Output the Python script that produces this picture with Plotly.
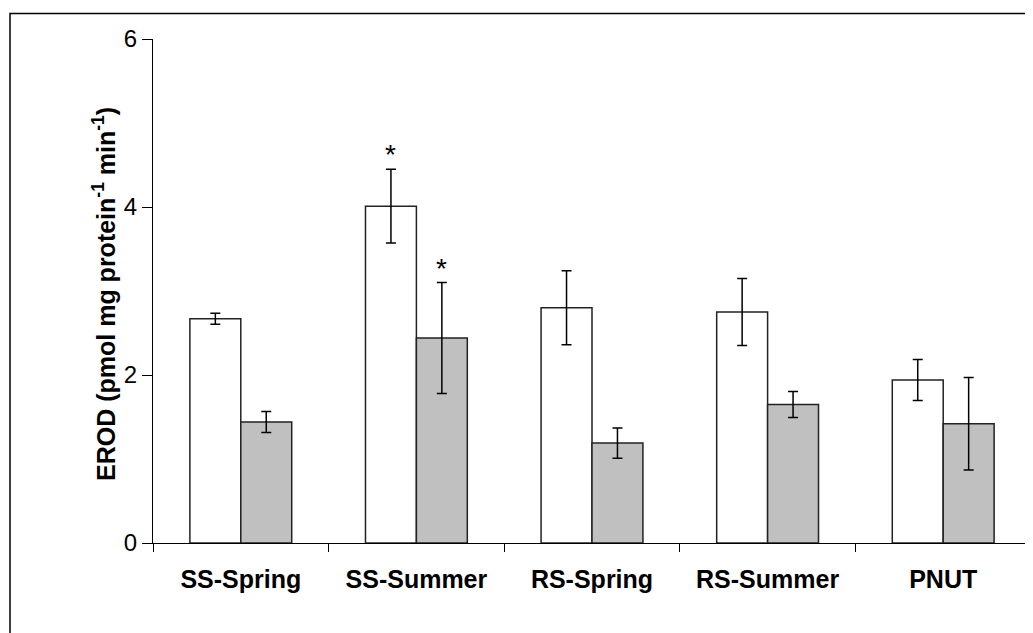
import plotly.graph_objects as go

categories = ["SS-Spring", "SS-Summer", "RS-Spring", "RS-Summer", "PNUT"]
white_values = [2.67, 4.01, 2.80, 2.75, 1.94]
white_errors = [0.065, 0.44, 0.44, 0.40, 0.245]
gray_values = [1.44, 2.44, 1.19, 1.65, 1.42]
gray_errors = [0.125, 0.66, 0.18, 0.155, 0.55]
white_star = [False, True, False, False, False]
gray_star = [False, True, False, False, False]
y_ticks = [0, 2, 4, 6]

FONT = "Liberation Sans, Arial, sans-serif"
BARGAP = 0.42

# page has an 8px body margin; plot area target: x 153..1031, y 39..543
L, T, PW, PH = 145, 31, 878, 504
W, H = 1025, 625

fig = go.Figure()
fig.add_trace(go.Bar(
    x=categories, y=white_values, name="white",
    marker=dict(color="white", line=dict(color="#222222", width=1.5)),
    error_y=dict(type="data", array=white_errors, visible=True,
                 color="black", thickness=1.5, width=5),
))
fig.add_trace(go.Bar(
    x=categories, y=gray_values, name="gray",
    marker=dict(color="#C0C0C0", line=dict(color="#222222", width=1.5)),
    error_y=dict(type="data", array=gray_errors, visible=True,
                 color="black", thickness=1.5, width=5),
))

off = (1 - BARGAP) / 4
for i, c in enumerate(categories):
    if white_star[i]:
        fig.add_annotation(x=i - off, y=white_values[i] + white_errors[i], xref="x", yref="y",
                           text="*", showarrow=False, yanchor="bottom", yshift=-3,
                           font=dict(family=FONT, size=28, color="black"))
    if gray_star[i]:
        fig.add_annotation(x=i + off, y=gray_values[i] + gray_errors[i], xref="x", yref="y",
                           text="*", showarrow=False, yanchor="bottom", yshift=-3,
                           font=dict(family=FONT, size=28, color="black"))

# y-axis title as annotation
fig.add_annotation(
    text="<b>EROD (pmol mg protein<sup>-1</sup> min<sup>-1</sup>)</b>",
    xref="paper", yref="paper", x=(104 - 153) / PW, y=(543 - 294) / PH,
    xanchor="center", yanchor="middle", textangle=-90, showarrow=False,
    font=dict(family=FONT, size=25, color="black"),
)

# outer frame
fig.add_shape(type="rect", xref="paper", yref="paper",
              x0=(10 - 153) / PW, x1=1.1, y0=-0.3, y1=(543 - 13.5) / PH,
              line=dict(color="black", width=1.5), fillcolor="rgba(0,0,0,0)")

fig.update_layout(
    width=W, height=H,
    margin=dict(l=L, r=W - L - PW, t=T, b=H - T - PH),
    paper_bgcolor="white", plot_bgcolor="white",
    barmode="group", bargap=BARGAP, bargroupgap=0,
    showlegend=False,
    font=dict(family=FONT, color="black"),
)
fig.update_xaxes(
    showline=True, linecolor="black", linewidth=1.2,
    ticks="outside", ticklen=8, tickcolor="black", tickwidth=1.2,
    tickson="boundaries", showgrid=False,
    tickfont=dict(family=FONT, size=25, color="black"),
    ticklabelstandoff=14,
    tickprefix="<b>", ticksuffix="</b>",
)
fig.update_yaxes(
    range=[0, 6], tickvals=y_ticks, showline=True, linecolor="black", linewidth=1.2,
    ticks="outside", ticklen=10, tickcolor="black", tickwidth=1.2,
    showgrid=False, zeroline=False,
    tickfont=dict(family=FONT, size=24, color="black"),
    ticklabelstandoff=0,
)

fig.write_html("out.html")
